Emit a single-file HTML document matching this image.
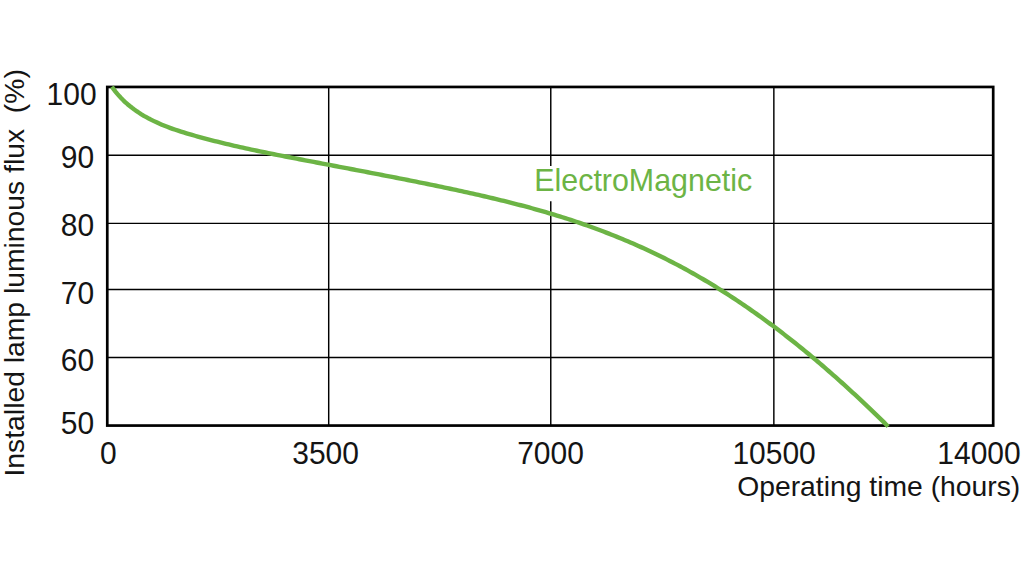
<!DOCTYPE html>
<html><head><meta charset="utf-8"><style>
html,body{margin:0;padding:0;background:#fff;width:1024px;height:578px;overflow:hidden}
svg{display:block}
text{font-family:"Liberation Sans", Arial, Helvetica, sans-serif;fill:#141414}
</style></head><body>
<svg width="1024" height="578" viewBox="0 0 1024 578">
<rect width="1024" height="578" fill="#fff"/>
<g stroke="#000" stroke-width="1.45" fill="none">
<line x1="107" y1="155.32" x2="993" y2="155.32"/>
<line x1="107" y1="223.39" x2="993" y2="223.39"/>
<line x1="107" y1="289.53" x2="993" y2="289.53"/>
<line x1="107" y1="357.44" x2="993" y2="357.44"/>
<line x1="328.7" y1="87" x2="328.7" y2="425"/>
<line x1="550.77" y1="87" x2="550.77" y2="166"/>
<line x1="550.77" y1="201.3" x2="550.77" y2="425"/>
<line x1="773.85" y1="87" x2="773.85" y2="425"/>
</g>
<rect x="107.27" y="86.96" width="885.93" height="338.61" fill="none" stroke="#000" stroke-width="2.7"/>
<path d="M111.87,86.68 L113.63,89.16 L115.45,91.55 L117.33,93.85 L119.27,96.08 L121.27,98.22 L123.32,100.29 L125.42,102.29 L127.57,104.21 L129.77,106.05 L132.01,107.84 L134.30,109.55 L136.63,111.20 L139.01,112.79 L141.41,114.32 L143.86,115.79 L146.34,117.20 L148.85,118.57 L151.39,119.88 L153.96,121.14 L156.56,122.36 L159.19,123.53 L161.84,124.66 L164.51,125.75 L167.21,126.81 L169.92,127.82 L172.65,128.81 L175.40,129.76 L178.16,130.69 L180.93,131.58 L183.71,132.46 L186.51,133.31 L189.30,134.14 L192.11,134.95 L194.92,135.75 L197.73,136.54 L200.54,137.31 L203.36,138.07 L206.17,138.82 L208.99,139.56 L211.80,140.29 L214.62,141.01 L217.44,141.71 L220.26,142.41 L223.08,143.10 L225.90,143.78 L228.72,144.45 L231.54,145.12 L234.36,145.77 L237.19,146.42 L240.01,147.05 L242.84,147.69 L245.67,148.31 L248.49,148.93 L251.32,149.54 L254.15,150.14 L256.98,150.74 L259.81,151.34 L262.64,151.93 L265.48,152.51 L268.31,153.09 L271.14,153.66 L273.98,154.23 L276.81,154.80 L279.65,155.36 L282.48,155.92 L285.32,156.48 L288.16,157.03 L291.00,157.58 L293.84,158.13 L296.67,158.68 L299.51,159.23 L302.36,159.77 L305.20,160.32 L308.04,160.86 L310.88,161.40 L313.72,161.95 L316.57,162.49 L319.41,163.03 L322.25,163.57 L325.10,164.11 L327.94,164.65 L330.79,165.19 L333.63,165.73 L336.48,166.28 L339.33,166.82 L342.17,167.36 L345.02,167.90 L347.86,168.44 L350.71,168.98 L353.56,169.52 L356.41,170.07 L359.25,170.61 L362.10,171.15 L364.95,171.70 L367.79,172.24 L370.64,172.79 L373.49,173.34 L376.33,173.89 L379.18,174.43 L382.03,174.99 L384.87,175.54 L387.72,176.09 L390.57,176.65 L393.41,177.20 L396.26,177.76 L399.10,178.32 L401.95,178.88 L404.79,179.44 L407.64,180.01 L410.48,180.57 L413.32,181.14 L416.17,181.71 L419.01,182.29 L421.85,182.86 L424.69,183.44 L427.53,184.02 L430.37,184.60 L433.21,185.19 L436.05,185.77 L438.89,186.36 L441.73,186.96 L444.57,187.55 L447.40,188.15 L450.24,188.75 L453.07,189.36 L455.90,189.96 L458.74,190.57 L461.57,191.19 L464.40,191.81 L467.23,192.43 L470.06,193.06 L472.89,193.69 L475.71,194.32 L478.54,194.96 L481.36,195.61 L484.18,196.26 L487.00,196.91 L489.82,197.57 L492.64,198.24 L495.46,198.91 L498.27,199.59 L501.09,200.27 L503.90,200.96 L506.71,201.66 L509.52,202.36 L512.32,203.07 L515.13,203.79 L517.93,204.51 L520.73,205.25 L523.53,205.99 L526.32,206.73 L529.12,207.49 L531.91,208.25 L534.70,209.03 L537.49,209.81 L540.27,210.60 L543.05,211.40 L545.83,212.20 L548.61,213.02 L551.38,213.85 L554.16,214.69 L556.93,215.53 L559.69,216.39 L562.46,217.26 L565.22,218.13 L567.98,219.02 L570.73,219.92 L573.49,220.83 L576.23,221.75 L578.98,222.68 L581.72,223.62 L584.46,224.57 L587.20,225.54 L589.93,226.51 L592.66,227.50 L595.38,228.49 L598.10,229.50 L600.82,230.52 L603.53,231.55 L606.24,232.59 L608.95,233.64 L611.65,234.70 L614.34,235.77 L617.03,236.86 L619.72,237.95 L622.40,239.06 L625.08,240.17 L627.75,241.30 L630.42,242.44 L633.08,243.59 L635.74,244.76 L638.39,245.93 L641.03,247.12 L643.68,248.31 L646.31,249.52 L648.94,250.74 L651.56,251.97 L654.18,253.22 L656.80,254.47 L659.40,255.74 L662.00,257.01 L664.60,258.30 L667.18,259.60 L669.77,260.92 L672.34,262.24 L674.91,263.58 L677.47,264.92 L680.03,266.28 L682.58,267.65 L685.12,269.04 L687.66,270.43 L690.19,271.84 L692.71,273.25 L695.23,274.68 L697.74,276.12 L700.24,277.56 L702.74,279.02 L705.23,280.49 L707.72,281.97 L710.20,283.47 L712.67,284.97 L715.14,286.48 L717.60,288.00 L720.06,289.53 L722.51,291.07 L724.95,292.63 L727.39,294.19 L729.82,295.76 L732.24,297.34 L734.66,298.93 L737.07,300.53 L739.48,302.14 L741.88,303.76 L744.27,305.39 L746.66,307.02 L749.05,308.67 L751.42,310.32 L753.79,311.99 L756.16,313.66 L758.52,315.34 L760.87,317.03 L763.22,318.73 L765.56,320.43 L767.90,322.15 L770.23,323.87 L772.56,325.60 L774.88,327.34 L777.19,329.09 L779.50,330.84 L781.80,332.60 L784.10,334.37 L786.39,336.15 L788.67,337.94 L790.95,339.73 L793.23,341.53 L795.50,343.33 L797.76,345.15 L800.02,346.97 L802.27,348.80 L804.52,350.63 L806.76,352.47 L809.00,354.32 L811.23,356.17 L813.46,358.03 L815.68,359.90 L817.89,361.77 L820.10,363.65 L822.31,365.54 L824.51,367.43 L826.70,369.32 L828.89,371.23 L831.07,373.14 L833.25,375.05 L835.43,376.97 L837.60,378.89 L839.76,380.82 L841.92,382.76 L844.07,384.70 L846.22,386.65 L848.36,388.60 L850.50,390.55 L852.64,392.51 L854.76,394.48 L856.89,396.45 L859.01,398.42 L861.12,400.40 L863.23,402.38 L865.33,404.37 L867.43,406.36 L869.53,408.36 L871.62,410.35 L873.70,412.36 L875.78,414.36 L877.86,416.37 L879.93,418.39 L881.99,420.40 L884.05,422.43 L886.11,424.45 L888.16,426.48" fill="none" stroke="#6cb445" stroke-width="4.4" stroke-linejoin="round" stroke-linecap="butt"/>
<text transform="translate(96.6,105.2) scale(1,1.02)" font-size="30" text-anchor="end">100</text>
<text transform="translate(94.2,168.0) scale(1,1.02)" font-size="30" text-anchor="end">90</text>
<text transform="translate(94.2,235.6) scale(1,1.02)" font-size="30" text-anchor="end">80</text>
<text transform="translate(94.2,304.0) scale(1,1.02)" font-size="30" text-anchor="end">70</text>
<text transform="translate(94.2,371.3) scale(1,1.02)" font-size="30" text-anchor="end">60</text>
<text transform="translate(94.2,434.3) scale(1,1.02)" font-size="30" text-anchor="end">50</text>
<text transform="translate(108.4,464.2) scale(1,1.02)" font-size="30" text-anchor="middle">0</text>
<text transform="translate(325.6,464.2) scale(1,1.02)" font-size="30" text-anchor="middle">3500</text>
<text transform="translate(550.5,464.2) scale(1,1.02)" font-size="30" text-anchor="middle">7000</text>
<text transform="translate(774.1,464.2) scale(1,1.02)" font-size="30" text-anchor="middle">10500</text>
<text transform="translate(979.0,464.2) scale(1,1.02)" font-size="30" text-anchor="middle">14000</text>
<text transform="translate(737.2,496.3) scale(1,1.0)" font-size="28.3" text-anchor="start">Operating time (hours)</text>
<text transform="translate(24.1,476.5) rotate(-90) scale(1,1.0)" font-size="28.3" xml:space="preserve" style="white-space:pre">Installed lamp luminous flux  (%)</text>
<text transform="translate(534.3,190.7) scale(1,1.045)" font-size="30.4" text-anchor="start" style="fill:#6cb445">ElectroMagnetic</text>
</svg>
</body></html>
